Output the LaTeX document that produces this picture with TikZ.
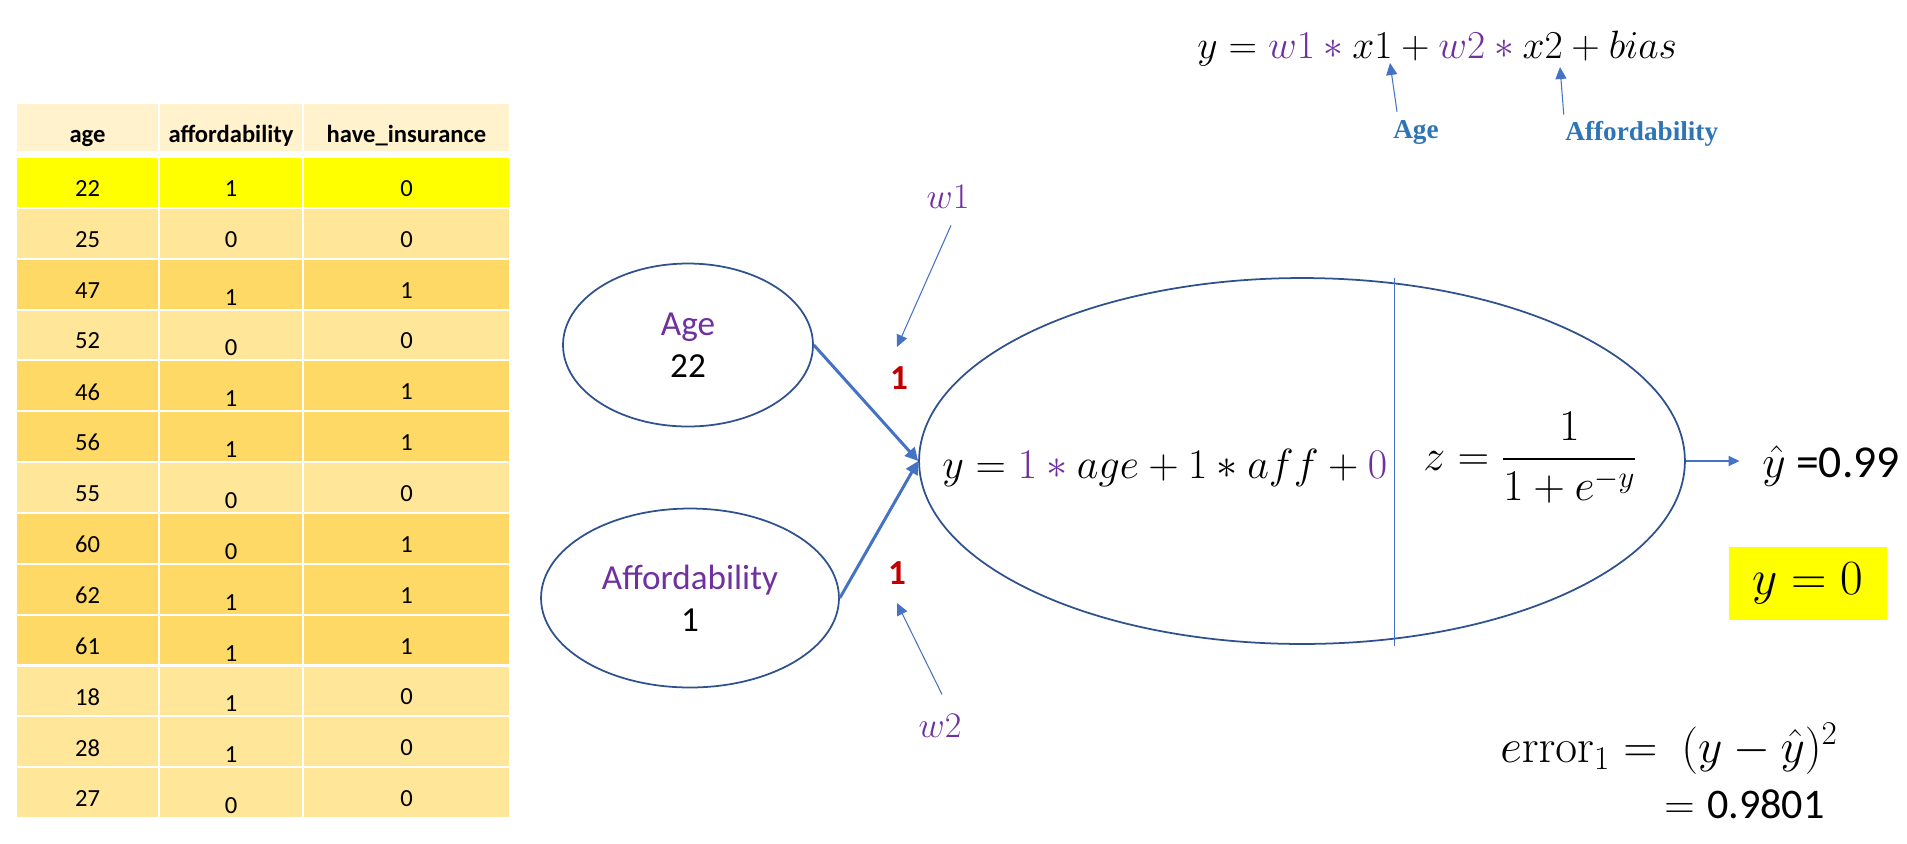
\RequirePackage{fix-cm}
\documentclass[tikz,border=0pt]{standalone}
\usepackage[no-math]{fontspec}
\usepackage{amsmath}
\usepackage{tikz}
\usetikzlibrary{arrows.meta,shapes.geometric}
\setmainfont{Carlito}
\newfontfamily\lblfont{Liberation Serif}

\definecolor{wpurple}{HTML}{7030A0}
\definecolor{lineblue}{HTML}{4472C4}
\definecolor{edgeblue}{HTML}{2F528F}
\definecolor{lblblue}{HTML}{2E75B6}
\definecolor{darkred}{HTML}{C00000}
\definecolor{hdrfill}{HTML}{FFF2CC}
\definecolor{lightrow}{HTML}{FFE699}
\definecolor{darkrow}{HTML}{FFD966}
\definecolor{hlrow}{HTML}{FFFF00}

\newcommand{\wstar}{\mathbin{\color{wpurple}*}}

\begin{document}
\begin{tikzpicture}[x=0.02cm,y=-0.02cm,
  tcell/.style={draw=white,line width=1.2pt},
  val/.style={font=\fontsize{14}{16}\selectfont},
  hdr/.style={font=\fontsize{14}{16}\selectfont\bfseries,anchor=base},
  inp/.style={draw=edgeblue,line width=1pt,ellipse,align=center,font=\fontsize{20}{24}\selectfont},
  ptr/.style={draw=lineblue,line width=0.6pt,-{Triangle[length=0.24cm,width=0.22cm]}},
  inarrow/.style={draw=lineblue,line width=1.7pt,-{Triangle[length=0.26cm,width=0.26cm]}},
  outarrow/.style={draw=lineblue,line width=1.1pt,-{Triangle[length=0.22cm,width=0.2cm]}},
  wlbl/.style={text=wpurple,font=\fontsize{20.5}{24}\selectfont,anchor=base,inner sep=0pt},
  wval/.style={text=darkred,font=\fontsize{20}{24}\selectfont\bfseries},
  lbl/.style={text=lblblue,font=\lblfont\bfseries\fontsize{15.5}{18}\selectfont,inner sep=0pt}
]
\useasboundingbox (0,0) rectangle (1907,843);
%\draw[gray,very thin] (0,0) grid[xstep=100,ystep=100] (1907,843);

% table
\draw[tcell,fill=hdrfill] (16,103) rectangle (159,152);
\draw[tcell,fill=hdrfill] (159,103) rectangle (303,152);
\draw[tcell,fill=hdrfill] (303,103) rectangle (510,152);
\node[hdr] (hage) at (87.5,142) {age};
\node[hdr] (haff) at (231,142) {affordability};
\node[hdr] (hins) at (406.5,142) {have\_insurance};

\foreach \i/\a/\f/\h/\c/\o in {1/22/1/0/hlrow/0, 2/25/0/0/lightrow/0, 3/47/1/1/darkrow/7,
    4/52/0/0/lightrow/7, 5/46/1/1/darkrow/7, 6/56/1/1/darkrow/7, 7/55/0/0/lightrow/7,
    8/60/0/1/darkrow/7, 9/62/1/1/darkrow/7, 10/61/1/1/darkrow/7, 11/18/1/0/lightrow/7,
    12/28/1/0/lightrow/7, 13/27/0/0/lightrow/7}{
  \pgfmathsetmacro{\rowtop}{157+(\i-1)*50.85}
  \pgfmathsetmacro{\rowbot}{157+\i*50.85}
  \pgfmathsetmacro{\rowmid}{157+(\i-0.5)*50.85}
  \draw[tcell,fill=\c] (16,\rowtop) rectangle (159,\rowbot);
  \draw[tcell,fill=\c] (159,\rowtop) rectangle (303,\rowbot);
  \draw[tcell,fill=\c] (303,\rowtop) rectangle (510,\rowbot);
  \node[val] (age\i) at (87.5,\rowmid+6) {\a};
  \node[val] (aff\i) at (231,\rowmid+6+\o) {\f};
  \node[val] (ins\i) at (406.5,\rowmid+6) {\h};
}

% formula at the top
\node[anchor=base west,inner sep=0pt,font=\fontsize{22.5}{27}\selectfont] (eqtop) at (1197,58)
  {$y = {\color{wpurple}w1} \wstar x1 + {\color{wpurple}w2} \wstar x2 + bias$};
\node[lbl,anchor=base] (lblage) at (1416,138) {Age};
\node[lbl,anchor=base west] (lblaff) at (1565,140) {Affordability};
\coordinate (x1tip) at (1390,63);
\coordinate (x2tip) at (1560,67);
\draw[ptr] ([shift={(-19,-8)}]lblage.north) -- (x1tip);
\draw[ptr] ([shift={(-78,-6)}]lblaff.north) -- (x2tip);

% inputs
\node[inp,minimum width=5cm,minimum height=3.26cm] (agein) at (688,345) {\textcolor{wpurple}{Age}\\22};
\node[inp,minimum width=5.96cm,minimum height=3.58cm] (affin) at (690,598) {\textcolor{wpurple}{Affordability}\\1};

% neuron
\node[draw=edgeblue,line width=1pt,ellipse,minimum width=15.32cm,minimum height=7.32cm] (neuron) at (1302,461) {};
\draw[lineblue,line width=0.5pt] (1394,278) -- (1394,646);
\node[anchor=base west,inner sep=0pt,font=\fontsize{24}{28}\selectfont] (lin) at (942,478)
  {$y = {\color{wpurple}1} \wstar age + 1 * aff + {\color{wpurple}0}$};
\node[anchor=base west,inner sep=0pt,font=\fontsize{25}{30}\selectfont] (sig) at (1423,470)
  {$z = \dfrac{1}{1+e^{-y}}$};

\draw[inarrow] (agein.east) -- (neuron.west);
\draw[inarrow] (affin.east) -- (neuron.west);

% weights
\node[wval] (w1val) at (899,378) {1};
\node[wval] (w2val) at (897,573) {1};
\node[wlbl] (w1lbl) at (948,208) {$w1$};
\node[wlbl] (w2lbl) at (940,737) {$w2$};
\coordinate (w1tip) at (897,347);
\coordinate (w2tip) at (897,603);
\draw[ptr] ([shift={(3,17)}]w1lbl.south) -- (w1tip);
\draw[ptr] ([shift={(2,-19)}]w2lbl.north) -- (w2tip);

% output
\node[anchor=base west,inner sep=0pt,font=\fontsize{26}{30}\selectfont] (yhat) at (1762,477) {$\hat{y}$ =0.99};
\draw[outarrow,shorten >=0.45cm] (neuron.east) -- (neuron.east -| yhat.west);
\node[fill=hlrow,minimum width=3.16cm,minimum height=1.46cm,font=\fontsize{28}{32}\selectfont] (ytrue) at (1808,583) {$y = 0$};

% error
\node[anchor=base west,inner sep=0pt,font=\fontsize{27}{30}\selectfont] (err) at (1500,762)
  {$e\mathrm{rror}_1 =\ (y - \hat{y})^2$};
\node[anchor=base west,inner sep=0pt,font=\fontsize{24}{28}\selectfont] (errval) at (1664,818)
  {$=$\hspace{0.25cm}0.9801};

\end{tikzpicture}
\end{document}
